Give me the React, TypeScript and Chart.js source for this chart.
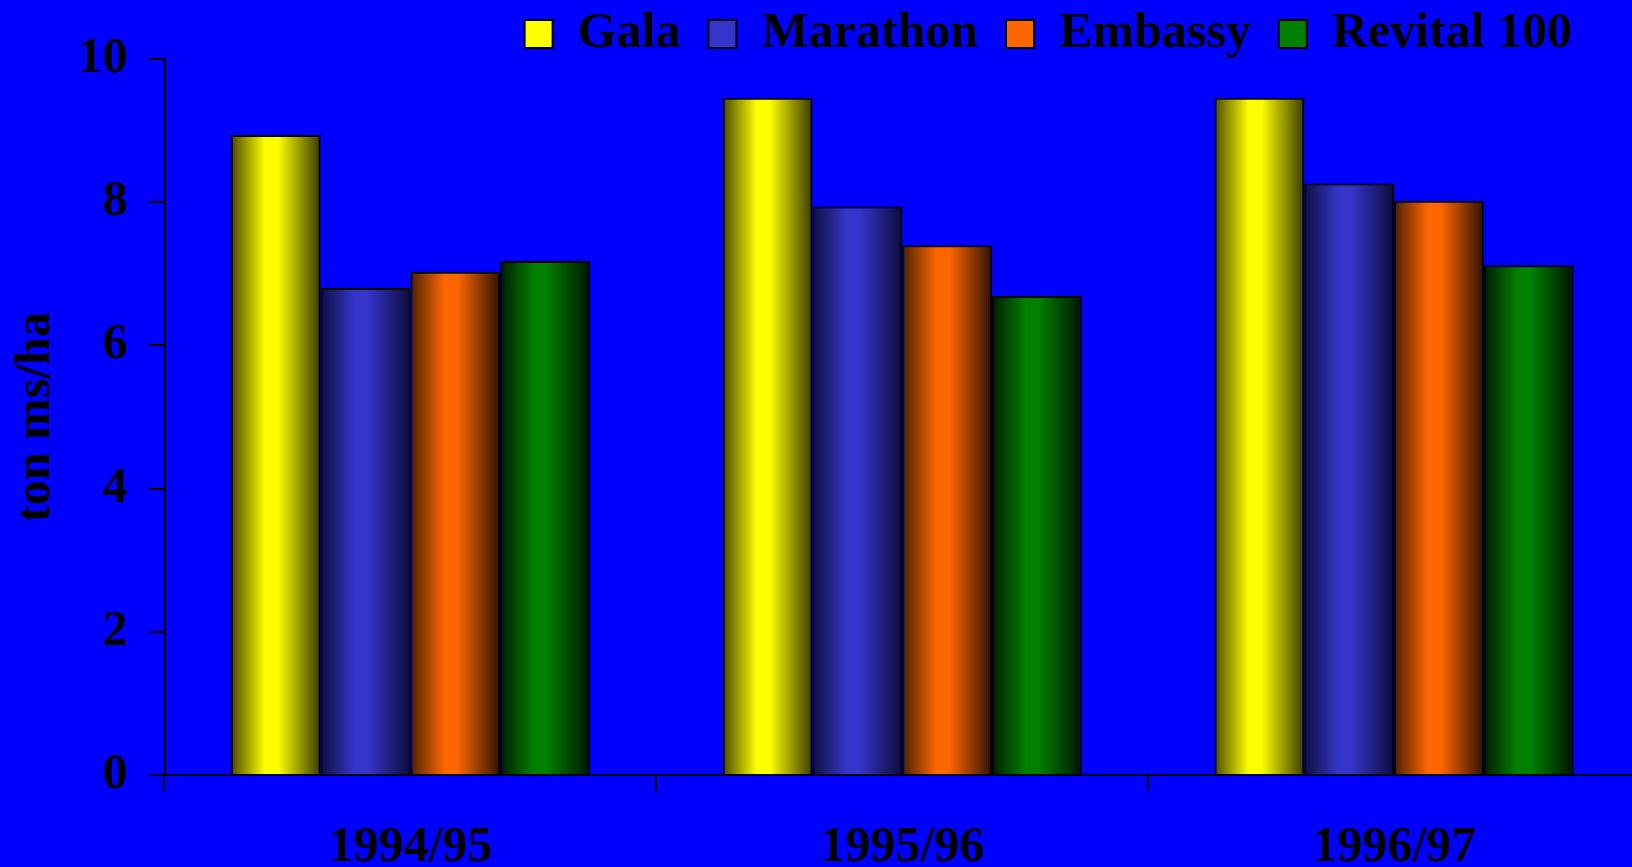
import React, { useEffect, useRef } from "react";
import { Chart, registerables } from "chart.js";

Chart.register(...registerables);

// ---- data ----
const categories = ["1994/95", "1995/96", "1996/97"];
const seriesNames = ["Gala", "Marathon", "Embassy", "Revital 100"];
const gala = [8.94, 9.46, 9.46];
const marathon = [6.8, 7.94, 8.26];
const embassy = [7.03, 7.4, 8.02];
const revital = [7.18, 6.69, 7.12];
const yTickValues = [0, 2, 4, 6, 8, 10];
const yTitle = "ton ms/ha";

// ---- styles ----
const seriesColors = [
  { edgeL: "#4a4a00", mid: "#ffff00", edgeR: "#3a3a00" },
  { edgeL: "#0e0e40", mid: "#3535cc", edgeR: "#0c0c38" },
  { edgeL: "#4a2000", mid: "#ff6600", edgeR: "#2e1200" },
  { edgeL: "#001c00", mid: "#008000", edgeR: "#001400" },
];
const CAT_PCT = 0.73;
const FONT = { family: "'Liberation Serif', 'Times New Roman', serif", size: 50, weight: "bold" as const };

function barFill(c: any, i: number) {
  const col = seriesColors[i];
  const chart = c.chart;
  const x = chart.scales && chart.scales.x;
  if (c.type !== "data" || !x || !chart.chartArea) return col.mid;
  const center = x.getPixelForValue(c.dataIndex);
  const catW = x.width / categories.length;
  const groupW = catW * CAT_PCT;
  const barW = groupW / seriesNames.length;
  const left = center - groupW / 2 + i * barW;
  if (!isFinite(left)) return col.mid;
  const g = chart.ctx.createLinearGradient(left, 0, left + barW, 0);
  g.addColorStop(0, col.edgeL);
  g.addColorStop(0.38, col.mid);
  g.addColorStop(0.52, col.mid);
  g.addColorStop(1, col.edgeR);
  return g;
}

const legendShift = {
  id: "legendShift",
  afterLayout(chart: any) {
    const lg = chart.legend;
    if (!lg) return;
    const dx = -40;
    const dy = -19;
    lg.left += dx;
    lg.right += dx;
    lg.top += dy;
  },
};

export default function App() {
  const ref = useRef<HTMLCanvasElement>(null);
  useEffect(() => {
    const canvas = ref.current!;
    const series = [gala, marathon, embassy, revital];
    const chart = new Chart(canvas, {
      type: "bar",
      data: {
        labels: categories,
        datasets: series.map((s, i) => ({
          label: seriesNames[i],
          data: s,
          backgroundColor: (c: any) => barFill(c, i),
          borderColor: "#000",
          borderWidth: 2,
          borderSkipped: "bottom",
          categoryPercentage: CAT_PCT,
          barPercentage: 1,
        })),
      },
      options: {
        responsive: false,
        animation: false,
        devicePixelRatio: 1,
        layout: { padding: 0 },
        plugins: {
          legend: {
            position: "top",
            align: "end",
            maxHeight: 59,
            labels: {
              boxWidth: 28,
              boxHeight: 28,
              padding: 28,
              color: "#000",
              font: FONT,
              generateLabels: () =>
                seriesNames.map((n, i) => ({
                  text: n,
                  fillStyle: seriesColors[i].mid,
                  strokeStyle: "#000",
                  lineWidth: 2,
                  hidden: false,
                  datasetIndex: i,
                  fontColor: "#000",
                })),
            },
          },
          tooltip: { enabled: false },
        },
        scales: {
          x: {
            afterFit: (s: any) => {
              s.height = 92;
            },
            grid: { drawOnChartArea: false, tickLength: 16, color: "#000", lineWidth: 2, offset: true },
            border: { color: "#000", width: 2 },
            ticks: { color: "#000", font: FONT, padding: 27, maxRotation: 0, autoSkip: false },
          },
          y: {
            min: 0,
            max: 10,
            afterBuildTicks: (s: any) => {
              s.ticks = yTickValues.map((v) => ({ value: v }));
            },
            afterFit: (s: any) => {
              s.width = 164.5;
            },
            grid: { drawOnChartArea: false, tickLength: 15, color: "#000", lineWidth: 2 },
            border: { color: "#000", width: 2 },
            ticks: { color: "#000", font: FONT, padding: 22 },
            title: {
              display: true,
              text: yTitle,
              color: "#000",
              font: FONT,
              padding: { top: 6, bottom: 0 },
            },
          },
        },
      },
      plugins: [legendShift],
    } as any);
    return () => chart.destroy();
  }, []);

  return (
    <div
      style={{
        position: "fixed",
        left: 0,
        top: 0,
        width: "100vw",
        height: "100vh",
        overflow: "hidden",
        background: "#0000ff",
      }}
    >
      <canvas ref={ref} width={1640} height={867} style={{ display: "block" }} />
    </div>
  );
}
